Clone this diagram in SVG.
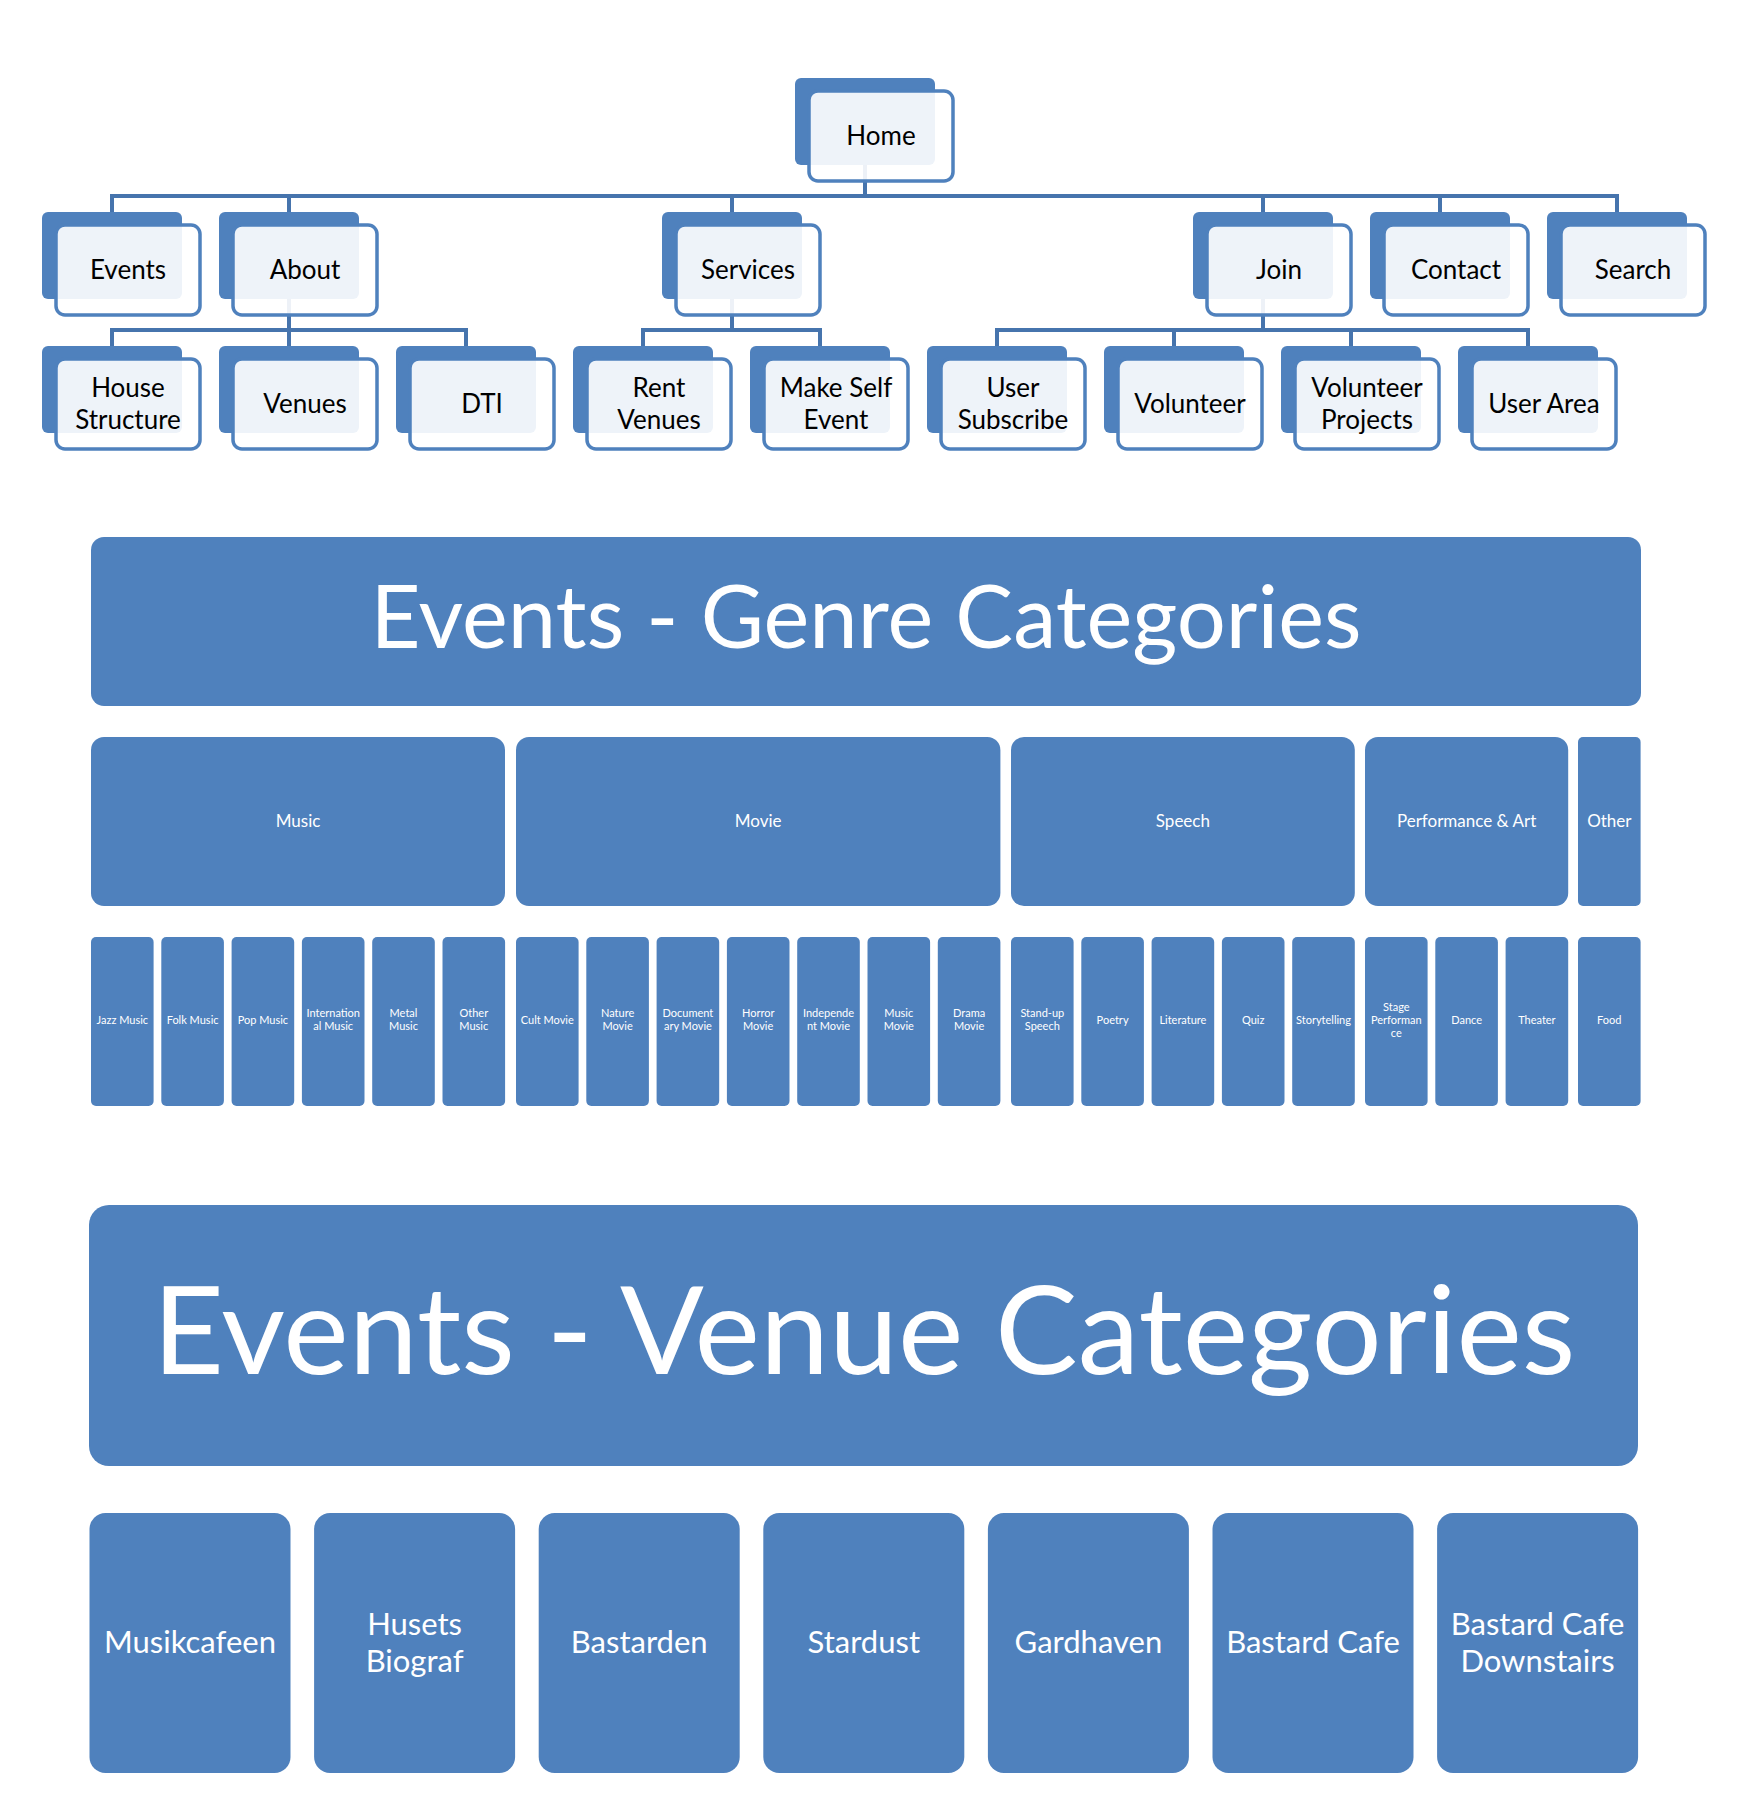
<svg xmlns="http://www.w3.org/2000/svg" width="1748" height="1800" viewBox="0 0 1748 1800">
<style>
.bk{fill:#4F81BD}
.fr{fill:#FFFFFF;fill-opacity:0.9;stroke:#4F81BD;stroke-width:3.5}
.nt{font-family:Lato,"Liberation Sans",sans-serif;font-size:26px;fill:#000;text-anchor:middle}
.cn{fill:none;stroke:#4674AD;stroke-width:4}
.bl{fill:#4F81BD}
.wt{font-family:Lato,"Liberation Sans",sans-serif;fill:#FFFFFF;text-anchor:middle}
.sub{font-size:11px}
.cat{font-size:17px}
.ven{font-size:31px}
</style>
<rect width="1748" height="1800" fill="#FFFFFF"/>

<g id="connectors">
<path class="cn" d="M865,163 V196 H112 V212"/>
<path class="cn" d="M865,196 H289 V212"/>
<path class="cn" d="M865,196 H732 V212"/>
<path class="cn" d="M865,196 H1263 V212"/>
<path class="cn" d="M865,196 H1440 V212"/>
<path class="cn" d="M865,196 H1617 V212"/>
<path class="cn" d="M289,299 V330 H112 V346"/>
<path class="cn" d="M289,330 V346"/>
<path class="cn" d="M289,330 H466 V346"/>
<path class="cn" d="M732,299 V330 H643 V346"/>
<path class="cn" d="M732,330 H820 V346"/>
<path class="cn" d="M1263,299 V330 H997 V346"/>
<path class="cn" d="M1263,330 H1174 V346"/>
<path class="cn" d="M1263,330 H1351 V346"/>
<path class="cn" d="M1263,330 H1528 V346"/>
</g>

<g id="node-home"><rect class="bk" x="795" y="78" width="140" height="87" rx="6"/><rect class="fr" x="809" y="91" width="144" height="90" rx="9"/><text class="nt" x="881" y="145">Home</text></g>

<g id="node-events"><rect class="bk" x="42" y="212" width="140" height="87" rx="6"/><rect class="fr" x="56" y="225" width="144" height="90" rx="9"/><text class="nt" x="128" y="279">Events</text></g>
<g id="node-about"><rect class="bk" x="219" y="212" width="140" height="87" rx="6"/><rect class="fr" x="233" y="225" width="144" height="90" rx="9"/><text class="nt" x="305" y="279">About</text></g>
<g id="node-services"><rect class="bk" x="662" y="212" width="140" height="87" rx="6"/><rect class="fr" x="676" y="225" width="144" height="90" rx="9"/><text class="nt" x="748" y="279">Services</text></g>
<g id="node-join"><rect class="bk" x="1193" y="212" width="140" height="87" rx="6"/><rect class="fr" x="1207" y="225" width="144" height="90" rx="9"/><text class="nt" x="1279" y="279">Join</text></g>
<g id="node-contact"><rect class="bk" x="1370" y="212" width="140" height="87" rx="6"/><rect class="fr" x="1384" y="225" width="144" height="90" rx="9"/><text class="nt" x="1456" y="279">Contact</text></g>
<g id="node-search"><rect class="bk" x="1547" y="212" width="140" height="87" rx="6"/><rect class="fr" x="1561" y="225" width="144" height="90" rx="9"/><text class="nt" x="1633" y="279">Search</text></g>

<g id="node-house-structure"><rect class="bk" x="42" y="346" width="140" height="87" rx="6"/><rect class="fr" x="56" y="359" width="144" height="90" rx="9"/><text class="nt" x="128" y="397">House</text><text class="nt" x="128" y="429">Structure</text></g>
<g id="node-venues"><rect class="bk" x="219" y="346" width="140" height="87" rx="6"/><rect class="fr" x="233" y="359" width="144" height="90" rx="9"/><text class="nt" x="305" y="413">Venues</text></g>
<g id="node-dti"><rect class="bk" x="396" y="346" width="140" height="87" rx="6"/><rect class="fr" x="410" y="359" width="144" height="90" rx="9"/><text class="nt" x="482" y="413">DTI</text></g>
<g id="node-rent-venues"><rect class="bk" x="573" y="346" width="140" height="87" rx="6"/><rect class="fr" x="587" y="359" width="144" height="90" rx="9"/><text class="nt" x="659" y="397">Rent</text><text class="nt" x="659" y="429">Venues</text></g>
<g id="node-make-self-event"><rect class="bk" x="750" y="346" width="140" height="87" rx="6"/><rect class="fr" x="764" y="359" width="144" height="90" rx="9"/><text class="nt" x="836" y="397">Make Self</text><text class="nt" x="836" y="429">Event</text></g>
<g id="node-user-subscribe"><rect class="bk" x="927" y="346" width="140" height="87" rx="6"/><rect class="fr" x="941" y="359" width="144" height="90" rx="9"/><text class="nt" x="1013" y="397">User</text><text class="nt" x="1013" y="429">Subscribe</text></g>
<g id="node-volunteer"><rect class="bk" x="1104" y="346" width="140" height="87" rx="6"/><rect class="fr" x="1118" y="359" width="144" height="90" rx="9"/><text class="nt" x="1190" y="413">Volunteer</text></g>
<g id="node-volunteer-projects"><rect class="bk" x="1281" y="346" width="140" height="87" rx="6"/><rect class="fr" x="1295" y="359" width="144" height="90" rx="9"/><text class="nt" x="1367" y="397">Volunteer</text><text class="nt" x="1367" y="429">Projects</text></g>
<g id="node-user-area"><rect class="bk" x="1458" y="346" width="140" height="87" rx="6"/><rect class="fr" x="1472" y="359" width="144" height="90" rx="9"/><text class="nt" x="1544" y="413">User Area</text></g>

<g id="genre-banner"><rect class="bl" x="91" y="537" width="1550" height="169" rx="13"/><text class="wt" x="866" y="648" font-size="87" textLength="991" lengthAdjust="spacingAndGlyphs">Events - Genre Categories</text></g>

<g id="cat-music"><rect class="bl" x="91" y="737" width="414" height="169" rx="13"/><text class="wt cat" x="298" y="827">Music</text></g>
<g id="cat-movie"><rect class="bl" x="516" y="737" width="484.4" height="169" rx="13"/><text class="wt cat" x="758.2" y="827">Movie</text></g>
<g id="cat-speech"><rect class="bl" x="1011" y="737" width="343.8" height="169" rx="13"/><text class="wt cat" x="1182.9" y="827">Speech</text></g>
<g id="cat-performance"><rect class="bl" x="1365" y="737" width="203.2" height="169" rx="13"/><text class="wt cat" x="1466.6" y="827">Performance &amp; Art</text></g>
<g id="cat-other"><rect class="bl" x="1578" y="737" width="62.6" height="169" rx="5"/><text class="wt cat" x="1609.3" y="827">Other</text></g>

<g id="sub-jazz"><rect class="bl" x="91" y="937" width="62.6" height="169" rx="5"/><text class="wt sub" x="122.3" y="1023.5">Jazz Music</text></g>
<g id="sub-folk"><rect class="bl" x="161.3" y="937" width="62.6" height="169" rx="5"/><text class="wt sub" x="192.6" y="1023.5">Folk Music</text></g>
<g id="sub-pop"><rect class="bl" x="231.6" y="937" width="62.6" height="169" rx="5"/><text class="wt sub" x="262.9" y="1023.5">Pop Music</text></g>
<g id="sub-international"><rect class="bl" x="301.9" y="937" width="62.6" height="169" rx="5"/><text class="wt sub" x="333.2" y="1017">Internation</text><text class="wt sub" x="333.2" y="1030">al Music</text></g>
<g id="sub-metal"><rect class="bl" x="372.2" y="937" width="62.6" height="169" rx="5"/><text class="wt sub" x="403.5" y="1017">Metal</text><text class="wt sub" x="403.5" y="1030">Music</text></g>
<g id="sub-other-music"><rect class="bl" x="442.5" y="937" width="62.6" height="169" rx="5"/><text class="wt sub" x="473.8" y="1017">Other</text><text class="wt sub" x="473.8" y="1030">Music</text></g>

<g id="sub-cult"><rect class="bl" x="516" y="937" width="62.6" height="169" rx="5"/><text class="wt sub" x="547.3" y="1023.5">Cult Movie</text></g>
<g id="sub-nature"><rect class="bl" x="586.3" y="937" width="62.6" height="169" rx="5"/><text class="wt sub" x="617.6" y="1017">Nature</text><text class="wt sub" x="617.6" y="1030">Movie</text></g>
<g id="sub-documentary"><rect class="bl" x="656.6" y="937" width="62.6" height="169" rx="5"/><text class="wt sub" x="687.9" y="1017">Document</text><text class="wt sub" x="687.9" y="1030">ary Movie</text></g>
<g id="sub-horror"><rect class="bl" x="726.9" y="937" width="62.6" height="169" rx="5"/><text class="wt sub" x="758.2" y="1017">Horror</text><text class="wt sub" x="758.2" y="1030">Movie</text></g>
<g id="sub-independent"><rect class="bl" x="797.2" y="937" width="62.6" height="169" rx="5"/><text class="wt sub" x="828.5" y="1017">Independe</text><text class="wt sub" x="828.5" y="1030">nt Movie</text></g>
<g id="sub-music-movie"><rect class="bl" x="867.5" y="937" width="62.6" height="169" rx="5"/><text class="wt sub" x="898.8" y="1017">Music</text><text class="wt sub" x="898.8" y="1030">Movie</text></g>
<g id="sub-drama"><rect class="bl" x="937.8" y="937" width="62.6" height="169" rx="5"/><text class="wt sub" x="969.1" y="1017">Drama</text><text class="wt sub" x="969.1" y="1030">Movie</text></g>

<g id="sub-standup"><rect class="bl" x="1011" y="937" width="62.6" height="169" rx="5"/><text class="wt sub" x="1042.3" y="1017">Stand-up</text><text class="wt sub" x="1042.3" y="1030">Speech</text></g>
<g id="sub-poetry"><rect class="bl" x="1081.3" y="937" width="62.6" height="169" rx="5"/><text class="wt sub" x="1112.6" y="1023.5">Poetry</text></g>
<g id="sub-literature"><rect class="bl" x="1151.6" y="937" width="62.6" height="169" rx="5"/><text class="wt sub" x="1182.9" y="1023.5">Literature</text></g>
<g id="sub-quiz"><rect class="bl" x="1221.9" y="937" width="62.6" height="169" rx="5"/><text class="wt sub" x="1253.2" y="1023.5">Quiz</text></g>
<g id="sub-storytelling"><rect class="bl" x="1292.2" y="937" width="62.6" height="169" rx="5"/><text class="wt sub" x="1323.5" y="1023.5">Storytelling</text></g>

<g id="sub-stage"><rect class="bl" x="1365" y="937" width="62.6" height="169" rx="5"/><text class="wt sub" x="1396.3" y="1010.5">Stage</text><text class="wt sub" x="1396.3" y="1023.5">Performan</text><text class="wt sub" x="1396.3" y="1036.5">ce</text></g>
<g id="sub-dance"><rect class="bl" x="1435.3" y="937" width="62.6" height="169" rx="5"/><text class="wt sub" x="1466.6" y="1023.5">Dance</text></g>
<g id="sub-theater"><rect class="bl" x="1505.6" y="937" width="62.6" height="169" rx="5"/><text class="wt sub" x="1536.9" y="1023.5">Theater</text></g>

<g id="sub-food"><rect class="bl" x="1578" y="937" width="62.6" height="169" rx="5"/><text class="wt sub" x="1609.3" y="1023.5">Food</text></g>

<g id="venue-banner"><rect class="bl" x="89" y="1205" width="1549" height="261" rx="20"/><text class="wt" x="864" y="1374" font-size="123" textLength="1423" lengthAdjust="spacingAndGlyphs">Events - Venue Categories</text></g>

<g id="venue-musikcafeen"><rect class="bl" x="89.5" y="1513" width="201" height="260" rx="16"/><text class="wt ven" x="190" y="1653">Musikcafeen</text></g>
<g id="venue-husets-biograf"><rect class="bl" x="314.1" y="1513" width="201" height="260" rx="16"/><text class="wt ven" x="414.6" y="1634.5">Husets</text><text class="wt ven" x="414.6" y="1671.5">Biograf</text></g>
<g id="venue-bastarden"><rect class="bl" x="538.7" y="1513" width="201" height="260" rx="16"/><text class="wt ven" x="639.2" y="1653">Bastarden</text></g>
<g id="venue-stardust"><rect class="bl" x="763.3" y="1513" width="201" height="260" rx="16"/><text class="wt ven" x="863.8" y="1653">Stardust</text></g>
<g id="venue-gardhaven"><rect class="bl" x="987.9" y="1513" width="201" height="260" rx="16"/><text class="wt ven" x="1088.4" y="1653">Gardhaven</text></g>
<g id="venue-bastard-cafe"><rect class="bl" x="1212.5" y="1513" width="201" height="260" rx="16"/><text class="wt ven" x="1313" y="1653">Bastard Cafe</text></g>
<g id="venue-bastard-cafe-downstairs"><rect class="bl" x="1437.1" y="1513" width="201" height="260" rx="16"/><text class="wt ven" x="1537.6" y="1634.5">Bastard Cafe</text><text class="wt ven" x="1537.6" y="1671.5">Downstairs</text></g>
</svg>
